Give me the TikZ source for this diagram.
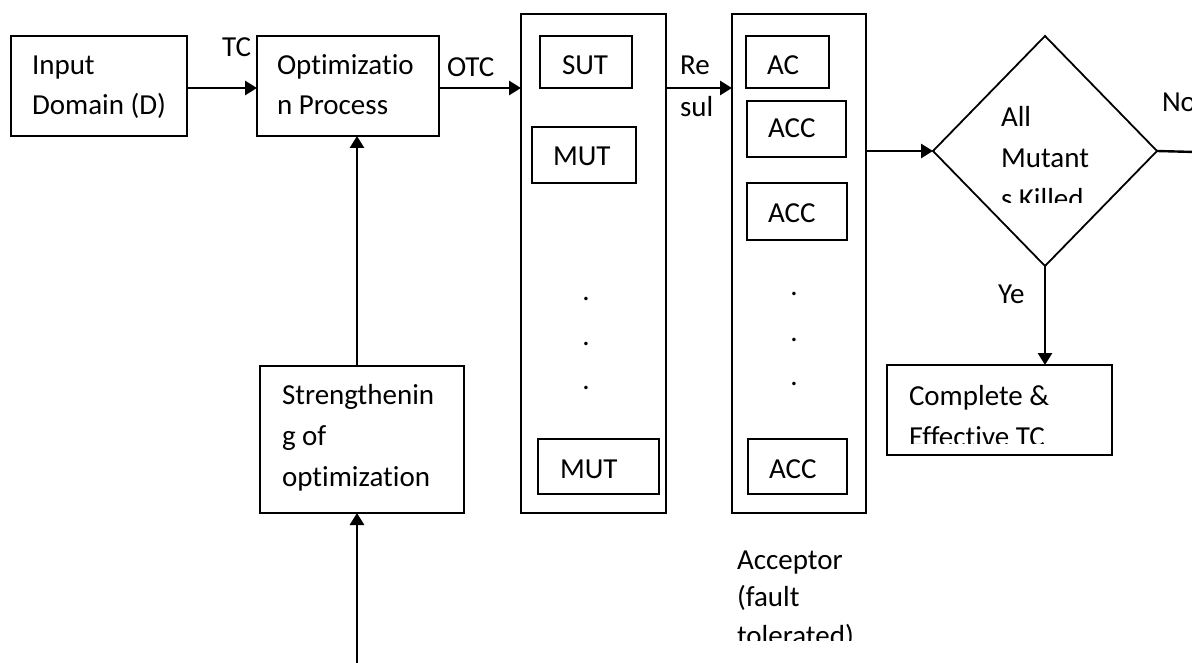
\documentclass[tikz,border=0pt]{standalone}
\usepackage{fontspec}
\setmainfont{Carlito}[Ligatures=NoCommon]
\usetikzlibrary{arrows.meta,shapes.geometric}
\begin{document}
\begin{tikzpicture}[x=1pt,y=-1pt,
  font=\fontsize{29pt}{34pt}\selectfont,
  box/.style={draw, line width=2.4pt, inner sep=0pt, outer sep=0pt},
  txt/.style={inner sep=0pt, outer sep=0pt, anchor=base west},
  dotl/.style={inner sep=0pt, outer sep=0pt, anchor=base},
  arr/.style={line width=2.8pt, -{Triangle[length=12pt,width=14pt]}},
  plain/.style={line width=2.4pt}]
\useasboundingbox (0,0) rectangle (1192,663);

% boxes
\node[box, minimum width=176pt, minimum height=100pt] (in) at (99,86) {};
\node[box, minimum width=182pt, minimum height=100pt] (opt) at (348,86) {};
\node[box, minimum width=145pt, minimum height=499pt] (sutcol) at (593.5,263.5) {};
\node[box, minimum width=92pt, minimum height=52pt] (sut) at (586,62) {};
\node[box, minimum width=104pt, minimum height=56pt] (mut1) at (584,155) {};
\node[box, minimum width=121pt, minimum height=55pt] (mut2) at (598.5,466.5) {};
\node[box, minimum width=134pt, minimum height=499pt] (acccol) at (799,263.5) {};
\node[box, minimum width=83pt, minimum height=52pt] (ac) at (787.5,62) {};
\node[box, minimum width=99pt, minimum height=56pt] (acc1) at (796.5,129) {};
\node[box, minimum width=100pt, minimum height=57pt] (acc2) at (797,211.5) {};
\node[box, minimum width=99pt, minimum height=55pt] (acc3) at (797.5,466.5) {};
\node[draw, line width=1.8pt, shape=diamond, inner sep=0pt, outer sep=0pt,
      minimum width=224pt, minimum height=230pt] (dia) at (1045,151) {};
\node[box, minimum width=225pt, minimum height=90pt] (comp) at (999.5,410) {};
\node[box, minimum width=204pt, minimum height=147pt] (str) at (362,439.5) {};

% texts
\node[txt] (tin1) at (32,75) {Input};
\node[txt] (tin2) at (32,115) {Domain (D)};
\node[txt] (topt1) at (277,75) {Optimizatio};
\node[txt] (topt2) at (277,115) {n Process};
\node[txt] (tsut) at (562,75) {SUT};
\node[txt] (tmut1) at (553,166) {MUT};
\node[txt] (tmut2) at (560,478) {MUT};
\node[txt] (tac) at (767,75) {AC};
\node[txt] (tacc1) at (768,138) {ACC};
\node[txt] (tacc2) at (768,223) {ACC};
\node[txt] (tacc3) at (769,478) {ACC};
\node[dotl] (sd1) at (586,301) {.};
\node[dotl] (sd2) at (586,345) {.};
\node[dotl] (sd3) at (586,389) {.};
\node[dotl] (ad1) at (794,295) {.};
\node[dotl] (ad2) at (794,341) {.};
\node[dotl] (ad3) at (794,385) {.};
\node[txt] (ltc) at (222,57) {TC};
\node[txt] (lotc) at (447,77) {OTC};
\node[txt] (lre1) at (680,75) {Re};
\node[txt] (lre2) at (680,117) {sul};
\node[txt] (tdia1) at (1001,127) {All};
\node[txt] (tdia2) at (1001,168) {Mutant};
\begin{scope}
  \clip (950,150) rectangle (1140,203);
  \node[txt] (tdia3) at (1001,209) {s Killed};
\end{scope}
\node[txt] (lno) at (1162,112) {No};
\node[txt] (lye) at (998,304) {Ye};
\node[txt] (tcomp1) at (909,405) {Complete \&};
\begin{scope}
  \clip (890,410) rectangle (1110,443);
  \node[txt] (tcomp2) at (909,446) {Effective TC};
\end{scope}
\node[txt] (tstr1) at (282,404) {Strengthenin};
\node[txt] (tstr2) at (282,445) {g of};
\node[txt] (tstr3) at (282,486) {optimization};
\node[txt] (tacp1) at (737,569) {Acceptor};
\node[txt] (tacp2) at (737,606) {(fault};
\begin{scope}
  \clip (730,610) rectangle (900,640);
  \node[txt] (tacp3) at (737,645) {tolerated)};
\end{scope}

% connectors
\coordinate (noend) at (1195,152);
\coordinate (bot) at (357,668);
\draw[arr] ([yshift=-2pt]in.east) -- ([yshift=-2pt]opt.west);
\draw[arr] ([yshift=-2pt]opt.east) -- ([yshift=-2pt]opt.east -| sutcol.west);
\draw[arr] ([yshift=-2pt]opt.east -| sutcol.east) -- ([yshift=-2pt]opt.east -| acccol.west);
\draw[arr] (dia.west -| acccol.east) -- (dia.west);
\draw[plain] (dia.east) -- (noend);
\draw[arr] (dia.south) -- (dia.south |- comp.north);
\draw[arr] ([xshift=-5pt]str.north) -- ([xshift=-5pt]str.north |- opt.south);
\draw[arr] (bot) -- ([xshift=-5pt]str.south);
\end{tikzpicture}
\end{document}
